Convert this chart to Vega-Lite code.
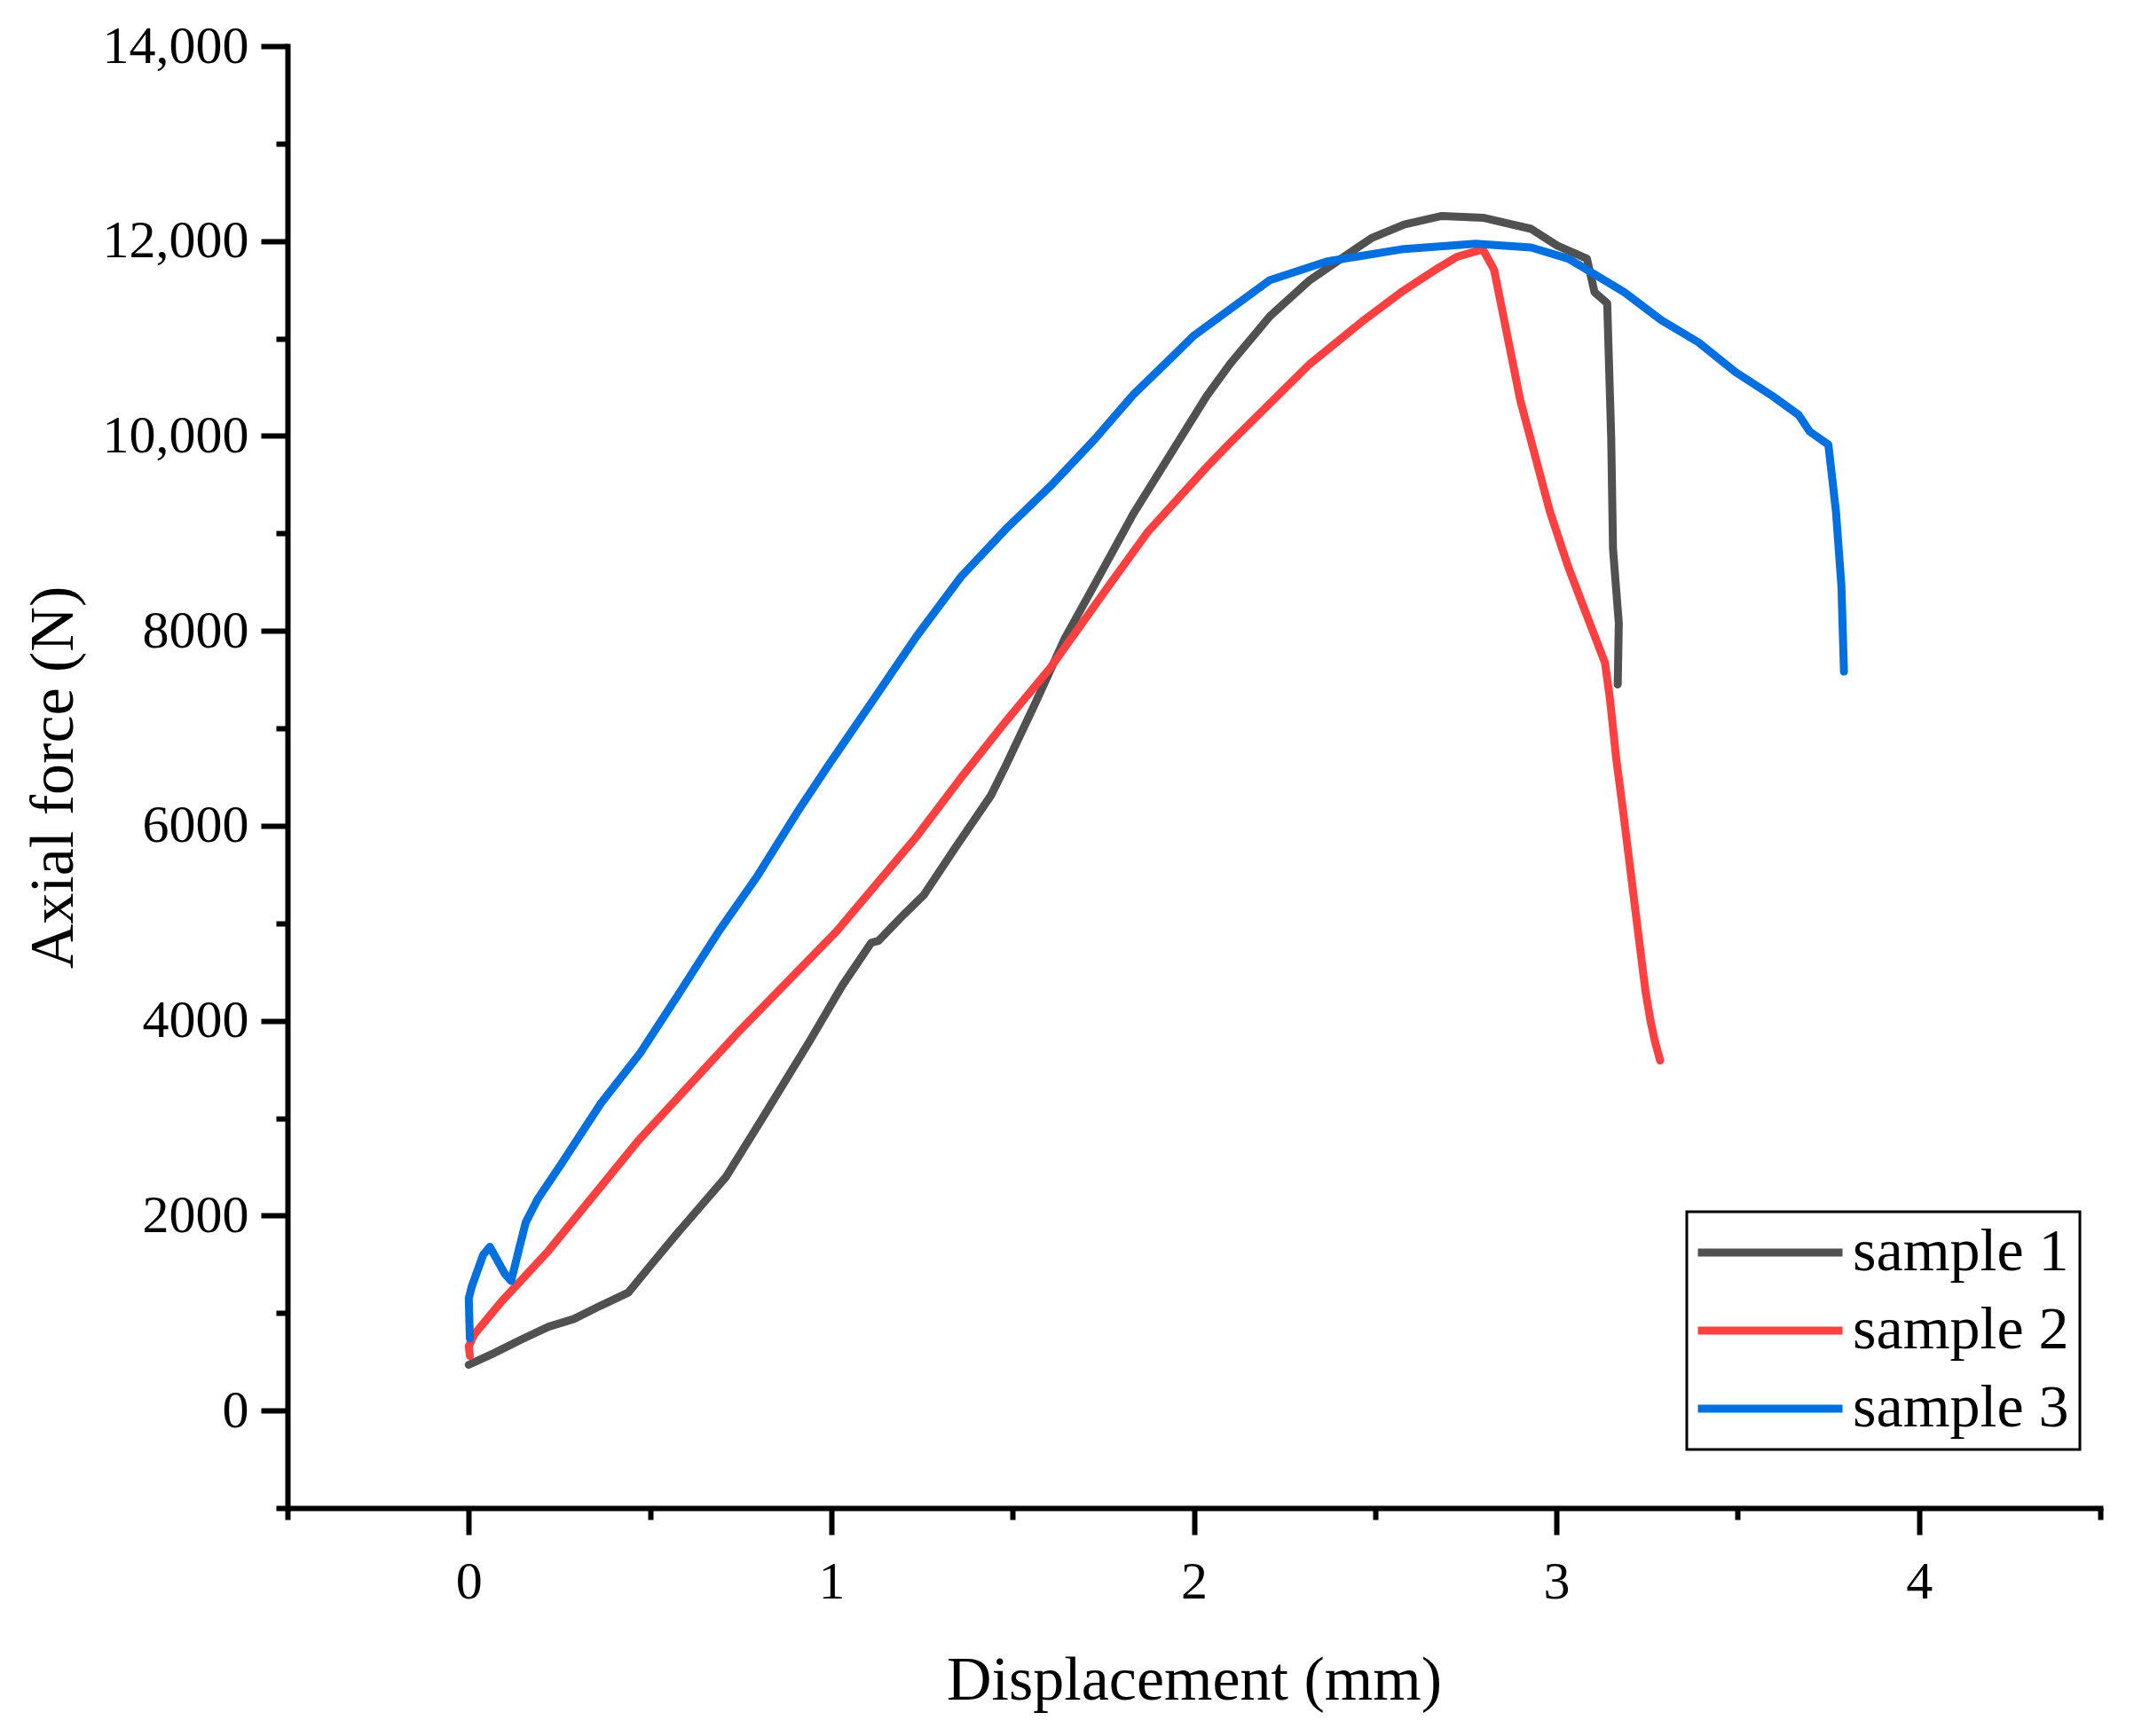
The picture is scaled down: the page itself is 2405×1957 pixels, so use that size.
{
  "$schema": "https://vega.github.io/schema/vega-lite/v6.json",
  "width": 2043,
  "height": 1648,
  "autosize": {"type": "none"},
  "padding": {"left": 324, "top": 52, "right": 38, "bottom": 257},
  "background": "white",
  "config": {
    "view": {"stroke": null},
    "axis": {
      "grid": false,
      "domainColor": "black",
      "domainWidth": 6,
      "domainCap": "square",
      "tickColor": "black",
      "tickWidth": 6,
      "labelFont": "Liberation Serif",
      "labelFontSize": 60,
      "labelColor": "black",
      "titleFont": "Liberation Serif",
      "titleFontSize": 70,
      "titleFontWeight": "normal",
      "titleColor": "black"
    },
    "legend": {
      "orient": "none",
      "legendX": 1577,
      "legendY": 1314,
      "strokeColor": "black",
      "strokeWidth": 3,
      "fillColor": "white",
      "padding": 12,
      "labelFont": "Liberation Serif",
      "labelFontSize": 68,
      "labelColor": "black",
      "labelLimit": 0,
      "labelOffset": 59,
      "symbolType": "M-4,0H4",
      "symbolSize": 1660,
      "symbolOffset": 48,
      "symbolStrokeWidth": 9,
      "rowPadding": 20,
      "title": null
    }
  },
  "data": {
    "values": [
      {"sample": "sample 1", "i": 0, "disp": 0.000, "force": 470},
      {"sample": "sample 1", "i": 1, "disp": 0.070, "force": 590},
      {"sample": "sample 1", "i": 2, "disp": 0.144, "force": 727},
      {"sample": "sample 1", "i": 3, "disp": 0.220, "force": 860},
      {"sample": "sample 1", "i": 4, "disp": 0.290, "force": 940},
      {"sample": "sample 1", "i": 5, "disp": 0.364, "force": 1077},
      {"sample": "sample 1", "i": 6, "disp": 0.440, "force": 1210},
      {"sample": "sample 1", "i": 7, "disp": 0.506, "force": 1510},
      {"sample": "sample 1", "i": 8, "disp": 0.580, "force": 1840},
      {"sample": "sample 1", "i": 9, "disp": 0.710, "force": 2400},
      {"sample": "sample 1", "i": 10, "disp": 0.820, "force": 3060},
      {"sample": "sample 1", "i": 11, "disp": 0.940, "force": 3790},
      {"sample": "sample 1", "i": 12, "disp": 1.030, "force": 4360},
      {"sample": "sample 1", "i": 13, "disp": 1.110, "force": 4800},
      {"sample": "sample 1", "i": 14, "disp": 1.130, "force": 4820},
      {"sample": "sample 1", "i": 15, "disp": 1.200, "force": 5090},
      {"sample": "sample 1", "i": 16, "disp": 1.255, "force": 5290},
      {"sample": "sample 1", "i": 17, "disp": 1.343, "force": 5780},
      {"sample": "sample 1", "i": 18, "disp": 1.440, "force": 6310},
      {"sample": "sample 1", "i": 19, "disp": 1.481, "force": 6616},
      {"sample": "sample 1", "i": 20, "disp": 1.562, "force": 7253},
      {"sample": "sample 1", "i": 21, "disp": 1.644, "force": 7923},
      {"sample": "sample 1", "i": 22, "disp": 1.725, "force": 8467},
      {"sample": "sample 1", "i": 23, "disp": 1.832, "force": 9195},
      {"sample": "sample 1", "i": 24, "disp": 2.035, "force": 10408},
      {"sample": "sample 1", "i": 25, "disp": 2.100, "force": 10740},
      {"sample": "sample 1", "i": 26, "disp": 2.210, "force": 11230},
      {"sample": "sample 1", "i": 27, "disp": 2.320, "force": 11600},
      {"sample": "sample 1", "i": 28, "disp": 2.430, "force": 11880},
      {"sample": "sample 1", "i": 29, "disp": 2.490, "force": 12030},
      {"sample": "sample 1", "i": 30, "disp": 2.580, "force": 12170},
      {"sample": "sample 1", "i": 31, "disp": 2.684, "force": 12258},
      {"sample": "sample 1", "i": 32, "disp": 2.797, "force": 12239},
      {"sample": "sample 1", "i": 33, "disp": 2.930, "force": 12125},
      {"sample": "sample 1", "i": 34, "disp": 3.002, "force": 11953},
      {"sample": "sample 1", "i": 35, "disp": 3.084, "force": 11819},
      {"sample": "sample 1", "i": 36, "disp": 3.105, "force": 11476},
      {"sample": "sample 1", "i": 37, "disp": 3.140, "force": 11361},
      {"sample": "sample 1", "i": 38, "disp": 3.151, "force": 9987},
      {"sample": "sample 1", "i": 39, "disp": 3.156, "force": 8842},
      {"sample": "sample 1", "i": 40, "disp": 3.172, "force": 8079},
      {"sample": "sample 1", "i": 41, "disp": 3.169, "force": 7450},

      {"sample": "sample 2", "i": 0, "disp": 0.003, "force": 560},
      {"sample": "sample 2", "i": 1, "disp": 0.000, "force": 660},
      {"sample": "sample 2", "i": 2, "disp": 0.015, "force": 780},
      {"sample": "sample 2", "i": 3, "disp": 0.090, "force": 1117},
      {"sample": "sample 2", "i": 4, "disp": 0.220, "force": 1640},
      {"sample": "sample 2", "i": 5, "disp": 0.470, "force": 2780},
      {"sample": "sample 2", "i": 6, "disp": 0.740, "force": 3870},
      {"sample": "sample 2", "i": 7, "disp": 1.015, "force": 4920},
      {"sample": "sample 2", "i": 8, "disp": 1.236, "force": 5894},
      {"sample": "sample 2", "i": 9, "disp": 1.358, "force": 6494},
      {"sample": "sample 2", "i": 10, "disp": 1.481, "force": 7071},
      {"sample": "sample 2", "i": 11, "disp": 1.603, "force": 7617},
      {"sample": "sample 2", "i": 12, "disp": 1.766, "force": 8467},
      {"sample": "sample 2", "i": 13, "disp": 1.872, "force": 9012},
      {"sample": "sample 2", "i": 14, "disp": 2.035, "force": 9680},
      {"sample": "sample 2", "i": 15, "disp": 2.100, "force": 9930},
      {"sample": "sample 2", "i": 16, "disp": 2.320, "force": 10740},
      {"sample": "sample 2", "i": 17, "disp": 2.469, "force": 11189},
      {"sample": "sample 2", "i": 18, "disp": 2.572, "force": 11476},
      {"sample": "sample 2", "i": 19, "disp": 2.674, "force": 11724},
      {"sample": "sample 2", "i": 20, "disp": 2.725, "force": 11838},
      {"sample": "sample 2", "i": 21, "disp": 2.797, "force": 11915},
      {"sample": "sample 2", "i": 22, "disp": 2.828, "force": 11705},
      {"sample": "sample 2", "i": 23, "disp": 2.859, "force": 11132},
      {"sample": "sample 2", "i": 24, "disp": 2.900, "force": 10369},
      {"sample": "sample 2", "i": 25, "disp": 2.941, "force": 9796},
      {"sample": "sample 2", "i": 26, "disp": 2.982, "force": 9224},
      {"sample": "sample 2", "i": 27, "disp": 3.033, "force": 8651},
      {"sample": "sample 2", "i": 28, "disp": 3.088, "force": 8117},
      {"sample": "sample 2", "i": 29, "disp": 3.134, "force": 7671},
      {"sample": "sample 2", "i": 30, "disp": 3.148, "force": 7288},
      {"sample": "sample 2", "i": 31, "disp": 3.165, "force": 6683},
      {"sample": "sample 2", "i": 32, "disp": 3.182, "force": 6204},
      {"sample": "sample 2", "i": 33, "disp": 3.199, "force": 5695},
      {"sample": "sample 2", "i": 34, "disp": 3.216, "force": 5185},
      {"sample": "sample 2", "i": 35, "disp": 3.233, "force": 4675},
      {"sample": "sample 2", "i": 36, "disp": 3.246, "force": 4292},
      {"sample": "sample 2", "i": 37, "disp": 3.259, "force": 4006},
      {"sample": "sample 2", "i": 38, "disp": 3.272, "force": 3782},
      {"sample": "sample 2", "i": 39, "disp": 3.286, "force": 3592},

      {"sample": "sample 3", "i": 0, "disp": 0.003, "force": 740},
      {"sample": "sample 3", "i": 1, "disp": 0.000, "force": 1150},
      {"sample": "sample 3", "i": 2, "disp": 0.008, "force": 1270},
      {"sample": "sample 3", "i": 3, "disp": 0.040, "force": 1600},
      {"sample": "sample 3", "i": 4, "disp": 0.058, "force": 1680},
      {"sample": "sample 3", "i": 5, "disp": 0.100, "force": 1400},
      {"sample": "sample 3", "i": 6, "disp": 0.117, "force": 1330},
      {"sample": "sample 3", "i": 7, "disp": 0.140, "force": 1680},
      {"sample": "sample 3", "i": 8, "disp": 0.157, "force": 1930},
      {"sample": "sample 3", "i": 9, "disp": 0.190, "force": 2170},
      {"sample": "sample 3", "i": 10, "disp": 0.255, "force": 2530},
      {"sample": "sample 3", "i": 11, "disp": 0.364, "force": 3150},
      {"sample": "sample 3", "i": 12, "disp": 0.473, "force": 3670},
      {"sample": "sample 3", "i": 13, "disp": 0.580, "force": 4280},
      {"sample": "sample 3", "i": 14, "disp": 0.690, "force": 4920},
      {"sample": "sample 3", "i": 15, "disp": 0.797, "force": 5490},
      {"sample": "sample 3", "i": 16, "disp": 0.906, "force": 6140},
      {"sample": "sample 3", "i": 17, "disp": 0.991, "force": 6616},
      {"sample": "sample 3", "i": 18, "disp": 1.114, "force": 7283},
      {"sample": "sample 3", "i": 19, "disp": 1.236, "force": 7950},
      {"sample": "sample 3", "i": 20, "disp": 1.358, "force": 8557},
      {"sample": "sample 3", "i": 21, "disp": 1.481, "force": 9043},
      {"sample": "sample 3", "i": 22, "disp": 1.603, "force": 9480},
      {"sample": "sample 3", "i": 23, "disp": 1.725, "force": 9960},
      {"sample": "sample 3", "i": 24, "disp": 1.832, "force": 10420},
      {"sample": "sample 3", "i": 25, "disp": 1.946, "force": 10833},
      {"sample": "sample 3", "i": 26, "disp": 2.000, "force": 11030},
      {"sample": "sample 3", "i": 27, "disp": 2.210, "force": 11600},
      {"sample": "sample 3", "i": 28, "disp": 2.367, "force": 11790},
      {"sample": "sample 3", "i": 29, "disp": 2.572, "force": 11915},
      {"sample": "sample 3", "i": 30, "disp": 2.777, "force": 11972},
      {"sample": "sample 3", "i": 31, "disp": 2.930, "force": 11934},
      {"sample": "sample 3", "i": 32, "disp": 3.033, "force": 11819},
      {"sample": "sample 3", "i": 33, "disp": 3.187, "force": 11476},
      {"sample": "sample 3", "i": 34, "disp": 3.289, "force": 11189},
      {"sample": "sample 3", "i": 35, "disp": 3.392, "force": 10960},
      {"sample": "sample 3", "i": 36, "disp": 3.494, "force": 10655},
      {"sample": "sample 3", "i": 37, "disp": 3.597, "force": 10407},
      {"sample": "sample 3", "i": 38, "disp": 3.668, "force": 10216},
      {"sample": "sample 3", "i": 39, "disp": 3.699, "force": 10044},
      {"sample": "sample 3", "i": 40, "disp": 3.750, "force": 9911},
      {"sample": "sample 3", "i": 41, "disp": 3.771, "force": 9224},
      {"sample": "sample 3", "i": 42, "disp": 3.786, "force": 8460},
      {"sample": "sample 3", "i": 43, "disp": 3.793, "force": 7582}
    ]
  },
  "mark": {"type": "line", "strokeWidth": 9, "strokeJoin": "round", "strokeCap": "round"},
  "encoding": {
    "x": {
      "field": "disp",
      "type": "quantitative",
      "scale": {"domain": [-0.5, 4.5], "nice": false, "zero": false},
      "axis": {
        "title": "Displacement (mm)",
        "values": [-0.5, 0, 0.5, 1, 1.5, 2, 2.5, 3, 3.5, 4, 4.5],
        "labelExpr": "datum.value % 1 === 0 ? format(datum.value, 'd') : ''",
        "tickSize": {"condition": {"test": "datum.value % 1 === 0", "value": 30}, "value": 13},
        "labelPadding": 24,
        "labelFlush": false,
        "labelOverlap": false,
        "titleY": 215,
        "titleBaseline": "alphabetic"
      }
    },
    "y": {
      "field": "force",
      "type": "quantitative",
      "scale": {"domain": [-1000, 14000], "nice": false, "zero": false},
      "axis": {
        "title": "Axial force (N)",
        "values": [-1000, 0, 1000, 2000, 3000, 4000, 5000, 6000, 7000, 8000, 9000, 10000, 11000, 12000, 13000, 14000],
        "labelExpr": "datum.value % 2000 !== 0 ? '' : (datum.value >= 10000 ? format(datum.value, ',') : format(datum.value, 'd'))",
        "tickSize": {"condition": {"test": "datum.value % 2000 === 0", "value": 30}, "value": 13},
        "labelPadding": 14,
        "labelFlush": false,
        "labelOverlap": false,
        "titleX": -243,
        "titleY": 824,
        "titleAngle": -90,
        "titleAlign": "center",
        "titleBaseline": "alphabetic"
      }
    },
    "color": {
      "field": "sample",
      "type": "nominal",
      "scale": {"domain": ["sample 1", "sample 2", "sample 3"], "range": ["#515151", "#FF4040", "#0070E0"]}
    },
    "order": {"field": "i", "type": "quantitative"}
  }
}
